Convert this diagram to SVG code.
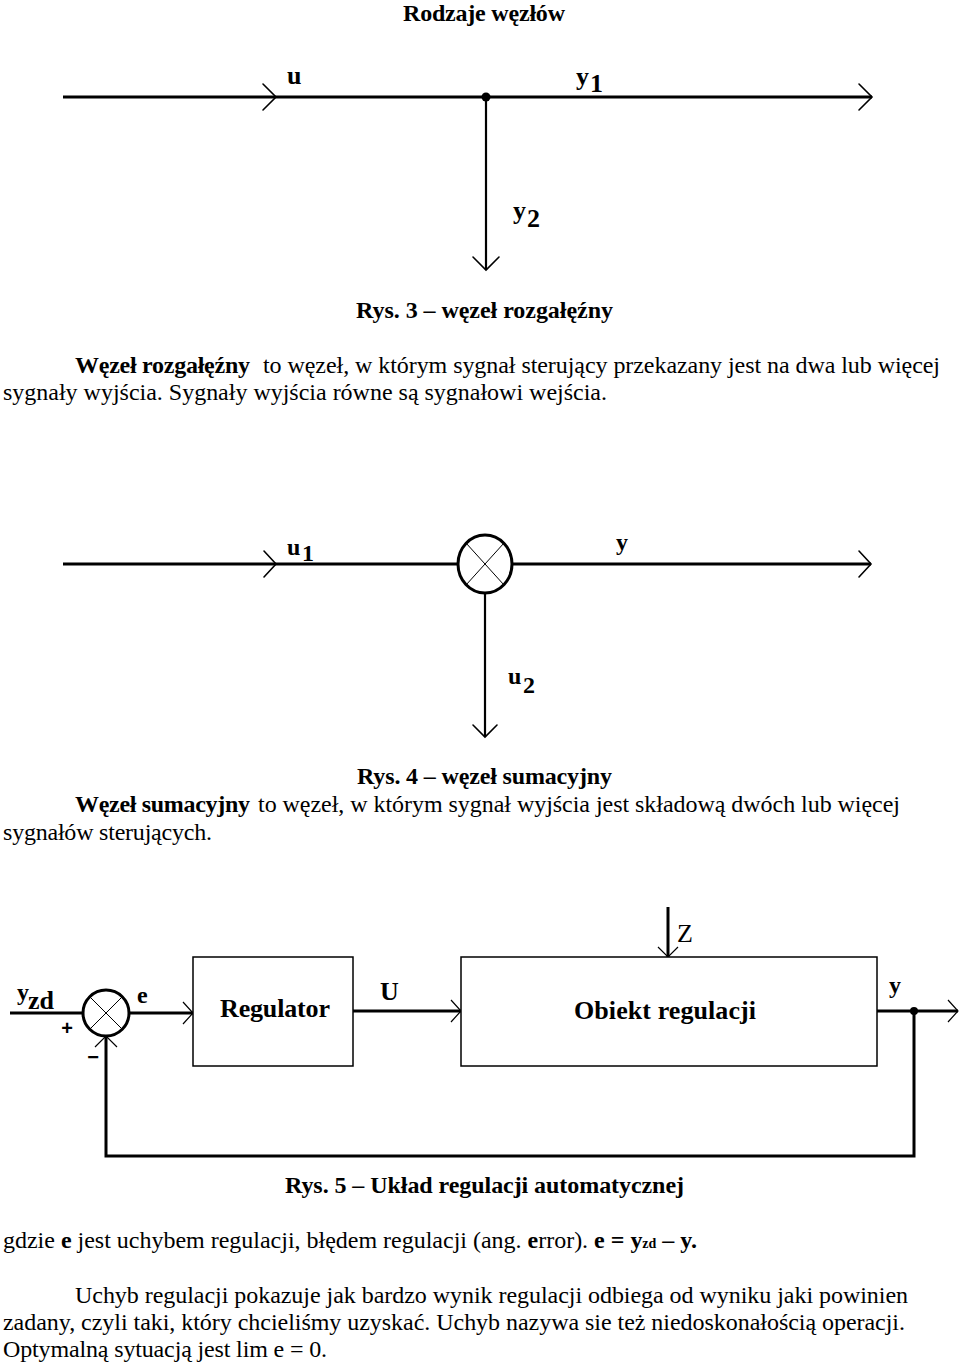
<svg xmlns="http://www.w3.org/2000/svg" width="960" height="1363" viewBox="0 0 960 1363">
<style>
.t{font-family:"Liberation Serif","Times New Roman",serif;font-size:24px;fill:#000}
.b{font-weight:bold}
.lbl{font-family:"Liberation Serif","Times New Roman",serif;font-weight:bold;font-size:26px;fill:#000}
.lbl2{font-family:"Liberation Serif","Times New Roman",serif;font-weight:bold;font-size:24px;fill:#000}
.box{fill:#fff;stroke:#000;stroke-width:1.5}
.sig{fill:none;stroke:#000;stroke-width:3}
.sig2{fill:none;stroke:#000;stroke-width:2.2}
.ah{fill:none;stroke:#000;stroke-width:1.6;stroke-linecap:round;stroke-linejoin:miter}
.ah2{fill:none;stroke:#000;stroke-width:1.2}
.thin{stroke:#000;stroke-width:1}
.node{fill:#fff;stroke:#000;stroke-width:3}
</style>
<rect width="960" height="1363" fill="#fff"/>

<!-- texts -->
<text class="t b" x="403" y="21" textLength="162">Rodzaje węzłów</text>
<text class="t b" x="356" y="318" textLength="257">Rys. 3 – węzeł rozgałęźny</text>
<text class="t b" x="75" y="373" textLength="175">Węzeł rozgałęźny</text>
<text class="t" x="263" y="373" textLength="677">to węzeł, w którym sygnał sterujący przekazany jest na dwa lub więcej</text>
<text class="t" x="3" y="400" textLength="604">sygnały wyjścia. Sygnały wyjścia równe są sygnałowi wejścia.</text>

<text class="t b" x="357" y="784" textLength="255">Rys. 4 – węzeł sumacyjny</text>
<text class="t b" x="75" y="812" textLength="175">Węzeł sumacyjny</text>
<text class="t" x="258" y="812" textLength="642">to węzeł, w którym sygnał wyjścia jest składową dwóch lub więcej</text>
<text class="t" x="3" y="840" textLength="209">sygnałów sterujących.</text>

<text class="t b" x="285" y="1193" textLength="399">Rys. 5 – Układ regulacji automatycznej</text>
<text class="t" x="3" y="1248" textLength="694">gdzie <tspan class="b">e</tspan> jest uchybem regulacji, błędem regulacji (ang. <tspan class="b">e</tspan>rror). <tspan class="b">e = y</tspan><tspan class="b" font-size="14">zd</tspan><tspan class="b"> – y.</tspan></text>
<text class="t" x="75" y="1303" textLength="833">Uchyb regulacji pokazuje jak bardzo wynik regulacji odbiega od wyniku jaki powinien</text>
<text class="t" x="3" y="1330" textLength="902">zadany, czyli taki, który chcieliśmy uzyskać. Uchyb nazywa sie też niedoskonałością operacji.</text>
<text class="t" x="3" y="1357" textLength="324">Optymalną sytuacją jest lim e = 0.</text>

<!-- Diagram 1: branch node -->
<g id="connectors1">
<line class="sig" x1="63" y1="97" x2="872" y2="97" stroke-width="3.5"/>
<polyline class="ah" points="263,84 276,97 263,110"/>
<polyline class="ah" points="859,84 872,97 859,110"/>
<line class="sig2" x1="486" y1="97" x2="486" y2="270" stroke-width="2.5"/>
<polyline class="ah" points="473,257 486,270 499,257"/>
</g>
<g id="branch-node">
<circle cx="486" cy="97" r="4.5" fill="#000"/>
</g>
<g id="labels1">
<text class="lbl" x="287" y="84">u</text>
<text class="lbl" x="576" y="85">y</text><text class="lbl" x="590" y="92">1</text>
<text class="lbl" x="513" y="219">y</text><text class="lbl" x="527" y="227">2</text>
</g>

<!-- Diagram 2: summing node -->
<g id="connectors2">
<line class="sig" x1="63" y1="564" x2="458" y2="564"/>
<line class="sig" x1="512" y1="564" x2="871" y2="564"/>
<polyline class="ah" points="264,551 276,564 264,577"/>
<polyline class="ah" points="859,551 871,564 859,577"/>
<line class="sig2" x1="485" y1="593" x2="485" y2="737" stroke-width="2"/>
<polyline class="ah" points="473,725 485,737 497,725"/>
</g>
<g id="sum-node">
<ellipse class="node" cx="485" cy="564" rx="27" ry="29"/>
<line class="thin" x1="466" y1="543" x2="504" y2="585"/>
<line class="thin" x1="504" y1="543" x2="466" y2="585"/>
</g>
<g id="labels2">
<text class="lbl2" x="287" y="555">u</text><text class="lbl2" x="302" y="561">1</text>
<text class="lbl2" x="616" y="550">y</text>
<text class="lbl2" x="508" y="684">u</text><text class="lbl2" x="523" y="693">2</text>
</g>

<!-- Diagram 3: control loop -->
<g id="connectors3">
<line class="sig" x1="10" y1="1013" x2="83" y2="1013"/>
<line class="sig" x1="129" y1="1013" x2="193" y2="1013"/>
<polyline class="ah2" points="183,1002 193,1013 183,1024"/>
<line class="sig" x1="353" y1="1011" x2="461" y2="1011"/>
<polyline class="ah2" points="451,1000 461,1011 451,1022"/>
<line class="sig" x1="877" y1="1011" x2="958" y2="1011"/>
<polyline class="ah2" points="948,1000 958,1011 948,1022"/>
<polyline class="sig" points="914,1011 914,1156 106,1156 106,1036"/>
<polyline class="ah2" points="95,1047 106,1036 117,1047"/>
<line class="sig" x1="668" y1="907" x2="668" y2="957" stroke-width="2.5"/>
<polyline class="ah2" points="658,947 668,957 678,947"/>
<circle cx="914" cy="1011" r="4" fill="#000"/>
</g>
<g id="sumator">
<circle class="node" cx="106" cy="1013" r="23"/>
<line class="thin" x1="90" y1="997" x2="122" y2="1029"/>
<line class="thin" x1="122" y1="997" x2="90" y2="1029"/>
</g>
<g id="regulator">
<rect class="box" x="193" y="957" width="160" height="109"/>
<text class="lbl" x="220" y="1017" textLength="110">Regulator</text>
</g>
<g id="obiekt">
<rect class="box" x="461" y="957" width="416" height="109"/>
<text class="lbl" x="574" y="1019" textLength="182">Obiekt regulacji</text>
</g>
<g id="labels3">
<text class="lbl2" x="17" y="1000">y</text><text class="lbl" x="28" y="1009">zd</text>
<text x="67" y="1035" text-anchor="middle" font-family="Liberation Sans, Arial, sans-serif" font-weight="bold" font-size="20">+</text>
<text x="93" y="1064" text-anchor="middle" font-family="Liberation Sans, Arial, sans-serif" font-weight="bold" font-size="20">−</text>
<text class="lbl2" x="137" y="1003">e</text>
<text class="lbl" x="380" y="1000">U</text>
<text x="677" y="942" font-family="Liberation Serif, Times New Roman, serif" font-size="26">Z</text>
<text class="lbl2" x="889" y="993">y</text>
</g>
</svg>
